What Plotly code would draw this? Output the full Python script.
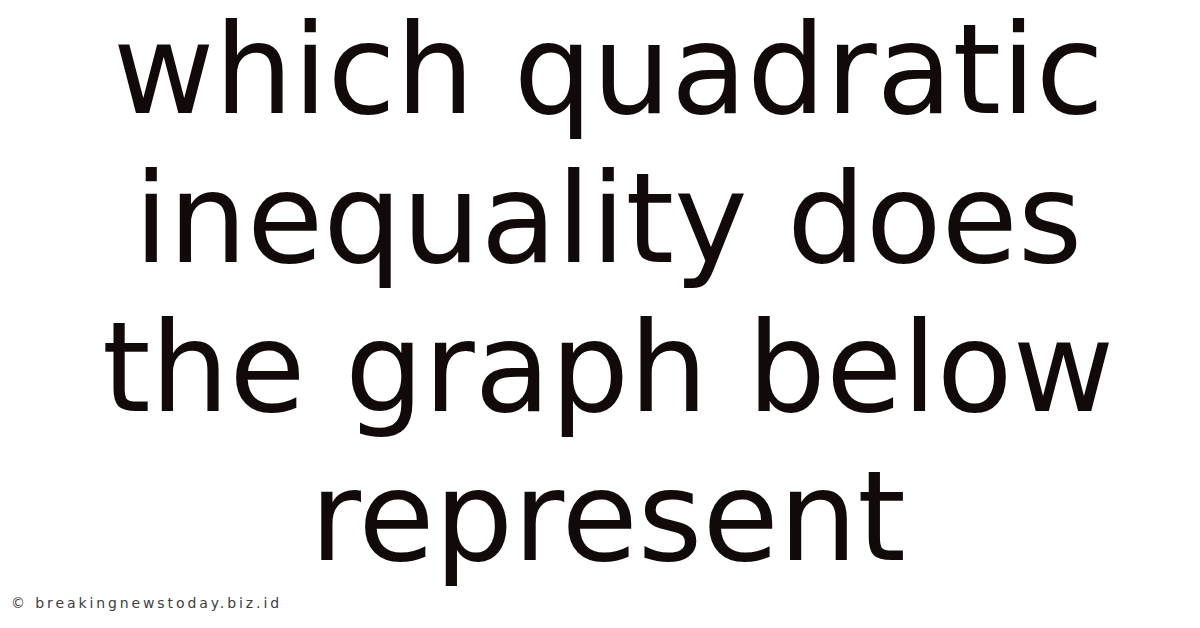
import plotly.graph_objects as go

# title lines shown on the card
lines = ["which quadratic", "inequality does", "the graph below", "represent"]
watermark = "© breakingnewstoday.biz.id"

W, H = 1200, 628
font_size = 124
first_baseline = 117
line_step = 149

fig = go.Figure()

for i, text in enumerate(lines):
    baseline = first_baseline + i * line_step
    # centre of the text box, measured against the rendered output
    center = baseline - 0.346 * font_size - 12
    fig.add_annotation(
        text=text,
        x=0.5, y=1 - center / H,
        xref="paper", yref="paper",
        xanchor="center", yanchor="middle",
        showarrow=False,
        font=dict(family="DejaVu Sans", size=font_size, color="#120a0a"),
    )

fig.add_annotation(
    text=watermark,
    x=1 / W, y=1 - 595 / H,
    xref="paper", yref="paper",
    xanchor="left", yanchor="middle",
    showarrow=False,
    font=dict(family="DejaVu Sans", size=14, color="#3c3c3c"),
)

fig.update_layout(
    width=W, height=H,
    margin=dict(l=0, r=0, t=0, b=0),
    paper_bgcolor="white",
    plot_bgcolor="white",
    xaxis=dict(visible=False),
    yaxis=dict(visible=False),
    showlegend=False,
)

# the watermark in the reference is tracked out wide; keep its left edge fixed
spacing_js = """
document.querySelectorAll('text.annotation-text').forEach(function (t) {
  if (t.textContent.indexOf('breakingnewstoday') >= 0) {
    var b = t.getBBox();
    t.setAttribute('text-anchor', 'start');
    t.setAttribute('x', b.x);
    t.style.letterSpacing = '2.9px';
  }
});
"""

fig.write_html("out.html", post_script=spacing_js)
